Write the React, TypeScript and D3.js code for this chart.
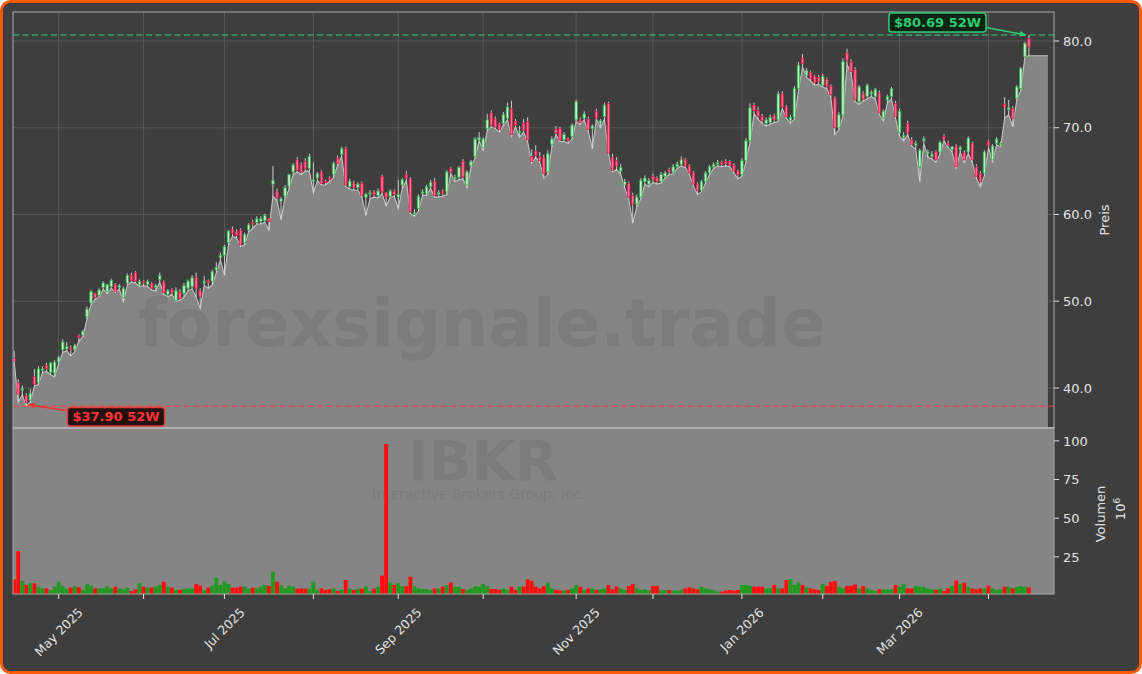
import React from "react";
import * as d3 from "d3";

// ---------- DATA ----------
const OPEN = [
  43.4, 40.6, 39.7, 39.1, 38.6, 41.3, 40.6, 42.0, 42.6, 41.8,
  41.7, 43.0, 44.4, 44.5, 44.6, 44.4, 46.0, 46.1, 48.2, 49.8,
  50.9, 50.7, 51.6, 51.1, 51.7, 51.9, 51.6, 50.4, 52.1, 53.0,
  53.3, 51.9, 52.3, 51.9, 52.0, 51.6, 52.5, 52.2, 50.8, 51.3,
  50.1, 51.0, 50.9, 51.5, 51.7, 52.7, 51.2, 52.1, 52.4, 52.3,
  53.6, 55.0, 55.3, 56.75, 58.3, 58.0, 58.2, 56.75, 58.2, 59.1,
  59.1, 59.2, 59.3, 59.5, 63.5, 62.6, 61.5, 62.1, 63.2, 64.9,
  66.3, 65.7, 66.1, 65.3, 63.8, 64.2, 64.9, 63.8, 64.2, 64.6,
  66.5, 66.9, 67.6, 63.2, 63.6, 63.1, 63.6, 62.0, 62.4, 62.6,
  62.2, 64.4, 62.5, 62.1, 62.7, 62.0, 63.4, 64.6, 64.1, 60.0,
  60.7, 62.4, 62.4, 63.2, 63.8, 62.3, 62.7, 62.6, 65.3, 64.1,
  64.3, 66.1, 63.4, 65.6, 66.7, 68.6, 67.7, 69.9, 71.7, 71.0,
  70.4, 70.5, 71.1, 72.2, 70.7, 69.4, 70.5, 70.7, 66.7, 67.3,
  66.7, 66.5, 64.9, 68.1, 69.8, 69.9, 68.6, 68.7, 69.0, 70.9,
  70.9, 71.1, 71.0, 69.9, 71.85, 70.5, 71.3, 72.8, 66.6, 66.2,
  65.0, 63.4, 63.6, 62.2, 61.2, 62.0, 63.8, 63.5, 64.4, 64.2,
  63.8, 64.4, 65.2, 64.9, 65.5, 65.8, 66.3, 65.6, 64.8, 63.5,
  62.8, 63.8, 64.8, 65.5, 65.8, 66.0, 66.1, 66.1, 65.7, 65.0,
  64.6, 66.2, 68.5, 72.6, 72.0, 71.3, 70.5, 70.6, 71.4, 70.9,
  73.9, 72.4, 70.8, 71.2, 74.5, 78.0, 76.0, 76.4, 75.9, 75.8,
  74.9, 75.6, 74.8, 73.4, 70.0, 71.5, 78.6, 77.6, 76.7, 73.0,
  73.9, 73.6, 73.9, 73.6, 74.0, 71.1, 73.2, 73.6, 72.8, 69.4,
  68.9, 70.5, 68.6, 68.0, 65.5, 68.5, 67.0, 66.7, 67.2, 67.2,
  69.0, 68.2, 67.5, 67.8, 67.5, 67.1, 67.2, 68.2, 65.5, 64.75,
  64.75, 68.4, 66.3, 68.2, 68.0, 72.7, 72.1, 72.2, 73.4, 74.5,
  78.2, 80.3,
];
const HIGH = [
  44.3, 41.0, 40.3, 39.4, 39.9, 42.2, 42.5, 42.5, 42.9, 43.0,
  43.2, 43.7, 45.6, 45.3, 44.9, 45.1, 46.2, 46.7, 49.4, 51.3,
  51.0, 51.5, 52.3, 52.0, 52.6, 52.1, 52.0, 51.7, 53.2, 53.3,
  53.5, 52.5, 52.4, 52.5, 52.2, 52.0, 53.3, 52.4, 51.4, 51.5,
  51.6, 51.4, 52.1, 52.5, 53.0, 53.3, 51.5, 52.9, 52.5, 53.6,
  54.5, 55.6, 56.5, 58.2, 58.6, 58.3, 58.4, 57.9, 59.0, 59.4,
  59.8, 59.8, 60.1, 59.6, 65.6, 63.0, 62.0, 63.4, 64.7, 65.9,
  66.6, 66.0, 66.5, 67.0, 66.0, 64.9, 65.1, 64.0, 64.4, 66.1,
  66.8, 67.8, 67.8, 64.1, 63.9, 63.7, 63.8, 62.5, 62.8, 62.8,
  63.0, 64.6, 62.6, 62.9, 62.9, 64.0, 64.2, 65.0, 64.3, 60.6,
  62.3, 62.9, 63.4, 64.0, 64.2, 62.8, 62.9, 65.1, 65.5, 64.6,
  65.6, 66.4, 65.1, 66.3, 68.9, 69.5, 68.9, 71.6, 72.0, 71.3,
  70.6, 71.8, 72.9, 73.1, 71.0, 70.2, 71.0, 71.2, 67.5, 68.0,
  67.2, 66.9, 67.4, 69.0, 70.2, 70.1, 69.5, 68.9, 70.5, 73.2,
  71.2, 71.9, 71.3, 70.4, 72.2, 71.0, 72.9, 73.0, 67.0, 66.6,
  65.8, 64.1, 63.8, 62.5, 62.3, 64.2, 64.5, 64.2, 64.7, 64.4,
  64.9, 65.0, 65.4, 65.8, 66.1, 66.7, 66.5, 65.8, 65.0, 63.7,
  64.0, 65.0, 65.7, 66.0, 66.3, 66.2, 66.4, 66.3, 65.9, 65.2,
  66.5, 68.8, 72.8, 72.9, 72.4, 71.6, 71.2, 71.5, 71.6, 74.2,
  74.2, 72.6, 71.5, 74.8, 77.6, 78.5, 76.9, 76.6, 76.1, 76.1,
  76.2, 75.8, 75.0, 73.6, 71.8, 78.0, 79.1, 77.9, 77.0, 74.9,
  74.2, 75.1, 74.3, 74.6, 74.3, 72.1, 73.8, 74.7, 73.1, 72.2,
  69.5, 70.8, 68.9, 68.5, 67.6, 69.0, 67.5, 67.3, 67.4, 68.5,
  69.3, 68.5, 67.9, 68.1, 67.9, 67.4, 69.0, 68.4, 65.8, 65.0,
  67.4, 68.6, 68.1, 68.9, 68.4, 73.5, 73.2, 72.5, 74.9, 77.0,
  79.9, 80.69,
];
const LOW = [
  43.0, 38.4, 39.2, 37.9, 38.4, 40.2, 40.4, 41.8, 41.9, 41.5,
  41.3, 42.8, 44.1, 44.3, 43.7, 44.2, 45.4, 45.9, 48.0, 49.6,
  50.2, 50.5, 51.4, 50.9, 51.5, 51.0, 51.4, 49.95, 51.9, 52.2,
  52.1, 51.7, 51.8, 51.7, 51.3, 51.2, 52.2, 50.8, 50.5, 50.8,
  50.0, 50.1, 50.5, 51.2, 51.4, 50.5, 49.2, 51.8, 51.5, 51.9,
  53.3, 54.7, 53.0, 56.5, 57.5, 57.3, 56.3, 56.5, 58.0, 58.4,
  58.9, 58.9, 59.1, 58.2, 62.1, 61.6, 59.4, 61.9, 62.9, 64.6,
  64.9, 64.6, 65.0, 65.0, 62.5, 63.9, 63.4, 63.4, 63.8, 64.3,
  65.7, 66.7, 63.2, 62.9, 62.8, 62.8, 62.0, 59.9, 61.8, 62.0,
  61.9, 62.4, 61.0, 62.0, 62.1, 60.7, 63.0, 63.9, 60.1, 59.8,
  60.4, 62.2, 62.2, 63.0, 62.0, 62.0, 62.1, 62.3, 64.7, 63.8,
  64.0, 64.1, 63.1, 65.4, 66.5, 68.5, 67.4, 69.7, 70.1, 69.9,
  69.5, 70.3, 70.9, 69.0, 70.1, 68.9, 69.5, 68.4, 65.9, 66.6,
  66.0, 64.2, 64.6, 67.8, 69.2, 68.4, 68.4, 68.2, 68.7, 70.7,
  70.4, 70.9, 69.6, 67.6, 71.0, 70.0, 71.0, 67.0, 64.9, 65.2,
  64.7, 63.1, 61.8, 59.0, 60.9, 61.8, 63.5, 63.2, 63.7, 63.5,
  63.6, 64.2, 64.6, 64.7, 65.3, 65.6, 65.4, 64.6, 63.3, 62.3,
  62.6, 63.6, 64.6, 65.3, 65.6, 65.5, 65.6, 65.5, 64.8, 64.1,
  64.4, 66.0, 68.3, 71.6, 71.0, 70.5, 70.2, 70.4, 70.6, 70.7,
  72.2, 71.1, 70.5, 71.0, 74.3, 77.0, 75.8, 75.4, 74.9, 75.0,
  74.7, 74.5, 73.5, 69.2, 69.8, 71.3, 77.3, 76.3, 73.0, 72.7,
  73.1, 73.3, 73.6, 73.3, 71.5, 70.8, 72.9, 73.3, 71.1, 69.0,
  68.5, 69.2, 67.9, 67.5, 63.8, 68.2, 66.6, 66.4, 66.0, 67.0,
  68.5, 67.7, 67.2, 65.3, 67.2, 66.0, 67.0, 66.0, 64.2, 63.2,
  64.5, 67.7, 66.0, 68.0, 67.8, 71.1, 71.5, 70.1, 73.2, 74.3,
  78.2, 78.3,
];
const CLOSE = [
  43.1, 39.3, 39.9, 38.3, 39.4, 40.4, 42.2, 42.2, 42.2, 42.9,
  43.0, 43.5, 45.3, 44.8, 44.4, 44.9, 45.8, 46.5, 49.1, 51.1,
  50.4, 51.3, 52.1, 51.9, 52.4, 51.1, 51.8, 51.5, 53.0, 52.4,
  52.3, 52.3, 52.1, 52.3, 51.5, 51.8, 52.95, 51.0, 51.2, 51.0,
  51.2, 50.3, 51.8, 52.3, 52.7, 51.5, 50.5, 52.3, 52.2, 53.4,
  53.9, 55.3, 56.3, 58.1, 57.8, 57.6, 56.5, 57.7, 58.8, 58.9,
  59.5, 59.5, 59.9, 59.2, 63.9, 61.9, 61.8, 63.1, 64.6, 65.7,
  65.1, 64.9, 65.3, 66.7, 64.0, 64.7, 63.6, 63.7, 64.0, 65.9,
  65.9, 67.6, 63.4, 63.8, 63.1, 63.5, 62.2, 62.3, 62.5, 62.3,
  62.7, 62.6, 62.0, 62.7, 62.3, 62.3, 64.0, 64.2, 60.3, 60.2,
  62.1, 62.6, 63.2, 63.7, 62.2, 62.5, 62.4, 64.9, 64.9, 64.3,
  65.4, 64.3, 64.9, 66.1, 68.7, 68.9, 68.7, 70.9, 70.3, 70.1,
  69.8, 71.5, 72.4, 69.2, 70.3, 69.6, 69.7, 68.6, 66.1, 66.8,
  66.2, 64.75, 67.0, 68.7, 69.4, 68.6, 69.2, 68.5, 70.3, 73.0,
  70.6, 71.6, 69.8, 70.2, 71.1, 70.8, 72.6, 67.1, 65.1, 65.6,
  65.4, 63.8, 62.0, 61.2, 62.0, 63.9, 64.2, 63.9, 64.0, 63.8,
  64.6, 64.8, 64.9, 65.5, 65.8, 66.3, 65.6, 64.8, 63.5, 62.8,
  63.8, 64.8, 65.5, 65.8, 66.0, 65.8, 65.9, 65.7, 65.0, 64.6,
  66.2, 68.5, 72.3, 72.0, 71.3, 70.8, 70.9, 71.2, 70.9, 73.9,
  72.4, 71.3, 71.2, 74.5, 77.2, 77.4, 76.6, 75.7, 75.2, 75.3,
  75.9, 74.8, 73.8, 70.0, 71.5, 77.6, 77.8, 76.5, 73.2, 74.7,
  73.3, 74.9, 74.1, 74.4, 71.7, 71.9, 73.6, 74.5, 71.3, 71.9,
  69.1, 69.4, 68.1, 68.2, 67.4, 68.7, 67.2, 66.9, 66.3, 68.3,
  68.7, 68.0, 67.8, 65.5, 67.7, 66.3, 68.8, 66.3, 64.4, 63.8,
  67.2, 67.9, 67.9, 68.7, 68.2, 72.4, 72.3, 71.1, 74.7, 76.85,
  79.7, 79.3,
];
// volume in millions of shares
const VOLUME = [
  10.5, 28.7, 9.4, 6.8, 7.9, 7.9, 5.7, 4.6, 4.6, 3.6,
  5.7, 8.9, 6.0, 4.4, 5.1, 6.0, 5.3, 3.6, 7.5, 6.4,
  4.6, 4.6, 4.6, 6.0, 4.4, 5.7, 4.6, 3.9, 5.1, 2.8,
  3.9, 7.9, 5.7, 5.1, 5.1, 5.7, 6.8, 8.9, 5.7, 5.1,
  3.6, 3.6, 4.4, 4.4, 4.6, 7.5, 6.4, 3.6, 5.1, 6.4,
  11.5, 6.8, 9.2, 7.5, 5.1, 5.1, 5.7, 5.7, 4.4, 5.1,
  4.6, 5.7, 6.8, 6.2, 15.4, 8.9, 6.8, 4.6, 6.4, 5.7,
  4.4, 4.6, 4.4, 4.4, 8.9, 3.6, 4.6, 3.6, 4.0, 4.4,
  3.0, 4.0, 10.0, 4.4, 3.6, 4.4, 4.4, 6.0, 2.8, 4.4,
  5.7, 12.8, 98.0, 8.5, 6.8, 7.9, 6.0, 6.0, 12.1, 6.0,
  4.6, 4.2, 4.2, 3.6, 4.6, 4.6, 5.7, 6.8, 8.5, 5.7,
  5.7, 4.2, 3.6, 4.6, 6.0, 5.7, 7.4, 6.0, 4.2, 4.2,
  3.6, 4.6, 3.6, 5.7, 3.6, 5.7, 5.7, 10.5, 9.5, 5.7,
  4.6, 6.0, 8.5, 4.6, 3.6, 3.2, 3.2, 3.6, 4.6, 6.8,
  5.7, 3.6, 4.6, 4.6, 3.6, 4.0, 4.6, 6.8, 4.0, 5.7,
  4.6, 3.6, 6.2, 7.4, 4.6, 3.6, 4.0, 3.2, 6.2, 6.2,
  3.2, 3.6, 3.6, 3.2, 3.2, 3.6, 4.6, 5.3, 4.6, 4.0,
  5.7, 4.6, 4.0, 3.6, 2.5, 2.5, 3.2, 3.6, 3.2, 3.6,
  6.8, 6.8, 6.3, 5.7, 5.7, 5.7, 4.6, 4.6, 6.8, 4.6,
  4.6, 10.0, 10.6, 6.8, 8.5, 6.8, 5.3, 4.6, 4.0, 3.6,
  7.4, 6.2, 8.9, 9.4, 5.7, 4.6, 6.2, 6.2, 7.2, 4.6,
  6.2, 4.6, 3.6, 2.9, 4.0, 4.0, 4.0, 4.0, 6.8, 5.7,
  7.4, 4.6, 4.6, 6.2, 5.7, 5.7, 4.6, 4.0, 3.6, 4.6,
  2.9, 4.6, 6.2, 9.7, 7.4, 8.3, 5.7, 4.6, 4.0, 4.6,
  4.6, 6.3, 4.6, 3.6, 4.0, 5.7, 5.7, 4.6, 5.7, 6.2,
  5.7, 5.3,
];
// trading-day index of the first session of each month, and its label
const MONTH_TICK_INDEX = [11, 32, 52, 74, 95, 116, 139, 158, 180, 200, 219, 241];
const MONTH_TICK_LABEL = ["May 2025", "", "Jul 2025", "", "Sep 2025", "", "Nov 2025", "", "Jan 2026", "", "Mar 2026", ""];
const PRICE_TICKS = [40, 50, 60, 70, 80];
const VOLUME_TICKS = [25, 50, 75, 100];
const HIGH_52W = 80.69;
const LOW_52W = 37.9;
const HIGH_52W_INDEX = 251;
const LOW_52W_INDEX = 3;

// ---------- LAYOUT ----------
const W = 1142;
const H = 674;
const PL = 13;
const PR = 1054;
const P_TOP = 12;
const P_BOT = 428;
const V_TOP = 428;
const V_BOT = 594;
const X_DOMAIN: [number, number] = [-0.3, 257.2];
const AREA_END = 255.7;
const FONT = "DejaVu Sans, Liberation Sans, sans-serif";
const TXT = "#e2e2e2";
const BG = "#3e3e3e";
const AREA = "#858585";

function measure(text: string, font: string): number {
  try {
    const c = document.createElement("canvas").getContext("2d");
    if (c) {
      c.font = font;
      return c.measureText(text).width;
    }
  } catch (e) {}
  return text.length * 7;
}

export default function App() {
  const n = Math.min(OPEN.length, HIGH.length, LOW.length, CLOSE.length, VOLUME.length);
  const idx = d3.range(n);
  const x = d3.scaleLinear().domain(X_DOMAIN).range([PL, PR]);
  const y = d3.scaleLinear().domain([35.39, 83.34]).range([P_BOT, P_TOP]);
  const yv = d3.scaleLinear().domain([0.97, 108.3]).range([V_BOT, V_TOP]);
  const step = x(1) - x(0);
  const bodyW = step * 0.62;
  const volW = step * 0.95;

  const areaPts: [number, number][] = [
    [X_DOMAIN[0], LOW[0]],
    ...idx.map((i) => [i, LOW[i]] as [number, number]),
    [AREA_END, LOW[n - 1]],
  ];
  const areaGen = d3
    .area<[number, number]>()
    .x((d) => x(d[0]))
    .y0(P_BOT)
    .y1((d) => y(d[1]));
  const lineGen = d3
    .line<[number, number]>()
    .x((d) => x(d[0]))
    .y((d) => y(d[1]));

  const upFill = "#bff0c4";
  const upStroke = "#2fae4a";
  const dnFill = "#ff6a92";
  const dnStroke = "#d81b4a";

  const hiText = `$${HIGH_52W.toFixed(2)} 52W`;
  const loText = `$${LOW_52W.toFixed(2)} 52W`;
  const annFont = `bold 13px ${FONT}`;
  const hiW = measure(hiText, annFont) + 10;
  const loW = measure(loText, annFont) + 10;
  const hiBox = { cx: 937.5, cy: 22.5, w: hiW, h: 19 };
  const loBox = { cx: 116, cy: 416.8, w: loW, h: 18.5 };
  const hiTarget = [x(HIGH_52W_INDEX) - 3, y(HIGH_52W)];
  const loTarget = [x(LOW_52W_INDEX) + 2, y(LOW_52W) - 1.5];
  const hiStart = [hiBox.cx + hiBox.w / 2, hiBox.cy + 5];
  const loStart = [loBox.cx - loBox.w / 2, loBox.cy - 6];

  const xLabelFont = `12.5px ${FONT}`;

  return (
    <svg
      width={W}
      height={H}
      viewBox={`0 0 ${W} ${H}`}
      style={{ position: "fixed", left: 0, top: 0, display: "block" }}
      fontFamily={FONT}
    >
      <defs>
        <marker id="arrG" viewBox="0 0 10 10" refX="9" refY="5" markerWidth="7" markerHeight="7" orient="auto-start-reverse" markerUnits="userSpaceOnUse">
          <path d="M0,1 L10,5 L0,9 z" fill="#2ecc71" />
        </marker>
        <marker id="arrR" viewBox="0 0 10 10" refX="9" refY="5" markerWidth="7" markerHeight="7" orient="auto-start-reverse" markerUnits="userSpaceOnUse">
          <path d="M0,1 L10,5 L0,9 z" fill="#ff3030" />
        </marker>
        <clipPath id="clipP">
          <rect x={PL} y={P_TOP} width={PR - PL} height={P_BOT - P_TOP} />
        </clipPath>
        <clipPath id="clipV">
          <rect x={PL} y={V_TOP} width={PR - PL} height={V_BOT - V_TOP} />
        </clipPath>
      </defs>

      <rect x={0} y={0} width={W} height={H} fill="#ffffff" />
      <rect x={1.5} y={1.5} width={W - 3} height={H - 3} rx={9} ry={9} fill={BG} stroke="#ff5a0a" strokeWidth={3} />

      {/* price panel */}
      <rect x={PL} y={P_TOP} width={PR - PL} height={P_BOT - P_TOP} fill={BG} />
      <g stroke="#5c5c5c" strokeWidth={0.9}>
        {PRICE_TICKS.map((t) => (
          <line key={"gy" + t} x1={PL} x2={PR} y1={y(t)} y2={y(t)} />
        ))}
        {MONTH_TICK_INDEX.map((t) => (
          <line key={"gx" + t} x1={x(t)} x2={x(t)} y1={P_TOP} y2={P_BOT} />
        ))}
      </g>
      <g clipPath="url(#clipP)">
        <path d={areaGen(areaPts) || ""} fill={AREA} />
        <path d={lineGen(areaPts) || ""} fill="none" stroke="#c4c4c4" strokeWidth={1.1} />
        <text x={482} y={346} textAnchor="middle" fontSize={66} fontWeight="bold" fill="#3a3a3a" fillOpacity={0.13}>
          forexsignale.trade
        </text>
        {idx.map((i) => {
          const up = CLOSE[i] >= OPEN[i];
          const cx = x(i);
          const top = y(Math.max(OPEN[i], CLOSE[i]));
          const bot = y(Math.min(OPEN[i], CLOSE[i]));
          return (
            <g key={"c" + i}>
              <line x1={cx} x2={cx} y1={y(HIGH[i])} y2={y(LOW[i])} stroke="#dcdcdc" strokeWidth={0.9} />
              <rect
                x={cx - bodyW / 2}
                y={top}
                width={bodyW}
                height={Math.max(bot - top, 1.2)}
                fill={up ? upFill : dnFill}
                stroke={up ? upStroke : dnStroke}
                strokeWidth={0.8}
              />
            </g>
          );
        })}
        <line x1={PL} x2={PR} y1={y(HIGH_52W)} y2={y(HIGH_52W)} stroke="#2ecc71" strokeOpacity={0.75} strokeWidth={1.5} strokeDasharray="6,3.5" />
        <line x1={PL} x2={PR} y1={y(LOW_52W)} y2={y(LOW_52W)} stroke="#ff3b3b" strokeOpacity={0.7} strokeWidth={1.5} strokeDasharray="6,3.5" />
      </g>
      <rect x={PL} y={P_TOP} width={PR - PL} height={P_BOT - P_TOP} fill="none" stroke="#a8a8a8" strokeWidth={1} />

      {/* annotations */}
      <line x1={hiStart[0]} y1={hiStart[1]} x2={hiTarget[0]} y2={hiTarget[1]} stroke="#2ecc71" strokeWidth={1.6} markerEnd="url(#arrG)" />
      <rect x={hiBox.cx - hiBox.w / 2} y={hiBox.cy - hiBox.h / 2} width={hiBox.w} height={hiBox.h} rx={3} fill="#0b2414" stroke="#2ecc71" strokeWidth={1.5} />
      <text x={hiBox.cx} y={hiBox.cy} dy="0.36em" textAnchor="middle" fontSize={13} fontWeight="bold" fill="#2ecc71">
        {hiText}
      </text>
      <line x1={loStart[0]} y1={loStart[1]} x2={loTarget[0]} y2={loTarget[1]} stroke="#ff3030" strokeWidth={1.6} markerEnd="url(#arrR)" />
      <rect x={loBox.cx - loBox.w / 2} y={loBox.cy - loBox.h / 2} width={loBox.w} height={loBox.h} rx={3} fill="#241010" stroke="#e03a3a" strokeWidth={1.5} />
      <text x={loBox.cx} y={loBox.cy} dy="0.36em" textAnchor="middle" fontSize={13} fontWeight="bold" fill="#ff3535">
        {loText}
      </text>

      {/* price axis */}
      {PRICE_TICKS.map((t) => (
        <g key={"py" + t}>
          <line x1={PR} x2={PR + 5} y1={y(t)} y2={y(t)} stroke={TXT} strokeWidth={1} />
          <text x={PR + 9} y={y(t)} dy="0.36em" fontSize={13} fill={TXT}>
            {t.toFixed(1)}
          </text>
        </g>
      ))}
      <text transform={`translate(${1109},${(P_TOP + P_BOT) / 2}) rotate(-90)`} textAnchor="middle" fontSize={13} fill={TXT}>
        Preis
      </text>

      {/* volume panel */}
      <rect x={PL} y={V_TOP} width={PR - PL} height={V_BOT - V_TOP} fill={AREA} />
      <g clipPath="url(#clipV)">
        <text x={483} y={480} textAnchor="middle" fontSize={56} fontWeight="bold" fill="#3a3a3a" fillOpacity={0.12}>
          IBKR
        </text>
        <text x={479} y={499} textAnchor="middle" fontSize={14} fill="#3a3a3a" fillOpacity={0.12}>
          Interactive Brokers Group, Inc.
        </text>
        {idx.map((i) => {
          const up = CLOSE[i] >= OPEN[i];
          const top = yv(VOLUME[i]);
          return (
            <rect key={"v" + i} x={x(i) - volW / 2} y={top} width={volW} height={V_BOT - top} fill={up ? "#1f9a1f" : "#ff0d0d"} />
          );
        })}
      </g>
      <rect x={PL} y={V_TOP} width={PR - PL} height={V_BOT - V_TOP} fill="none" stroke="#a8a8a8" strokeWidth={1} />
      <line x1={PL} x2={PR} y1={P_BOT} y2={P_BOT} stroke="#b4b4b4" strokeWidth={1.6} />

      {VOLUME_TICKS.map((t) => (
        <g key={"vy" + t}>
          <line x1={PR} x2={PR + 5} y1={yv(t)} y2={yv(t)} stroke={TXT} strokeWidth={1} />
          <text x={PR + 9} y={yv(t)} dy="0.36em" fontSize={13} fill={TXT}>
            {t}
          </text>
        </g>
      ))}
      <text transform={`translate(${1105},${(V_TOP + V_BOT) / 2 + 3}) rotate(-90)`} textAnchor="middle" fontSize={13} fill={TXT}>
        Volumen
      </text>
      <text transform={`translate(${1125},${(V_TOP + V_BOT) / 2 - 2}) rotate(-90)`} textAnchor="middle" fontSize={13} fill={TXT}>
        10<tspan dy="-5" fontSize={9}>6</tspan>
      </text>

      {/* date axis */}
      {MONTH_TICK_INDEX.map((t, k) => {
        const lab = MONTH_TICK_LABEL[k];
        const tx = x(t);
        const w = lab ? measure(lab, xLabelFont) : 0;
        const hh = ((w + 14.5) * Math.SQRT1_2) / 2;
        return (
          <g key={"xt" + t}>
            <line x1={tx} x2={tx} y1={V_BOT} y2={V_BOT + 5} stroke={TXT} strokeWidth={1} />
            {lab && (
              <text
                transform={`translate(${tx},${V_BOT + 11 + hh}) rotate(-45)`}
                textAnchor="middle"
                dy="0.36em"
                fontSize={12.5}
                fill={TXT}
              >
                {lab}
              </text>
            )}
          </g>
        );
      })}
    </svg>
  );
}
